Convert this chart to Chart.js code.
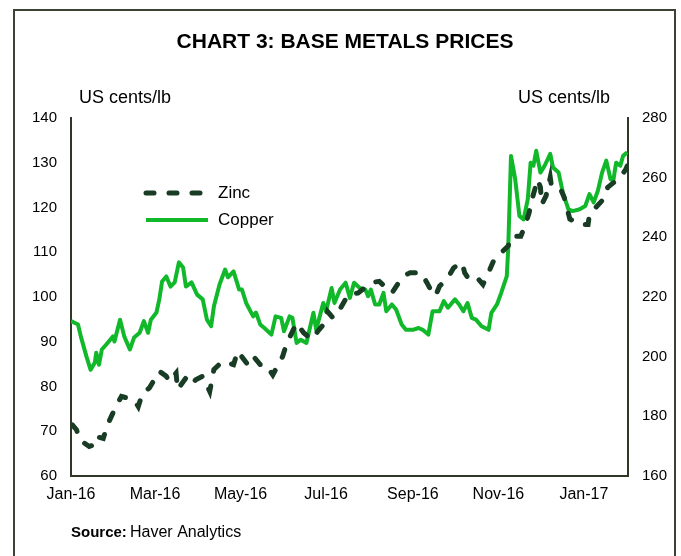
<!DOCTYPE html>
<html>
<head>
<meta charset="utf-8">
<script src="https://cdn.jsdelivr.net/npm/chart.js@4.4.1/dist/chart.umd.min.js"></script>
<style>
  html, body { margin: 0; padding: 0; background: #fff; }
  #wrap { position: relative; width: 681px; height: 556px; }
</style>
</head>
<body>
<div id="wrap"><canvas id="metalsChart"></canvas></div>
<script>
// Chart 3: base metals prices (US cents/lb)
const tickDates = ['2016-01-01', '2016-03-01', '2016-05-01', '2016-07-01', '2016-09-01', '2016-11-01', '2017-01-01'];
const tickLabels = ['Jan-16', 'Mar-16', 'May-16', 'Jul-16', 'Sep-16', 'Nov-16', 'Jan-17'];

// zinc - left axis
const zincDates = [
    '2016-01-02', '2016-01-05', '2016-01-07', '2016-01-14', '2016-01-18', '2016-01-19', '2016-01-24', '2016-01-27',
    '2016-02-02', '2016-02-06', '2016-02-15', '2016-02-18', '2016-02-21', '2016-02-26', '2016-03-04', '2016-03-09',
    '2016-03-11', '2016-03-16', '2016-03-17', '2016-03-23', '2016-03-27', '2016-03-30', '2016-04-04', '2016-04-09',
    '2016-04-12', '2016-04-18', '2016-04-26', '2016-04-29', '2016-05-07', '2016-05-11', '2016-05-15', '2016-05-19',
    '2016-05-24', '2016-05-31', '2016-06-03', '2016-06-10', '2016-06-15', '2016-06-21', '2016-06-25', '2016-06-29',
    '2016-07-02', '2016-07-06', '2016-07-10', '2016-07-17', '2016-07-24', '2016-08-02', '2016-08-08', '2016-08-13',
    '2016-08-17', '2016-08-25', '2016-08-30', '2016-09-07', '2016-09-11', '2016-09-13', '2016-09-17', '2016-09-20',
    '2016-09-26', '2016-09-30', '2016-10-06', '2016-10-08', '2016-10-12', '2016-10-18', '2016-10-21', '2016-10-26',
    '2016-10-29', '2016-11-08', '2016-11-10', '2016-11-17', '2016-11-20', '2016-11-23', '2016-11-24', '2016-11-29',
    '2016-12-01', '2016-12-02', '2016-12-05', '2016-12-08', '2016-12-09', '2016-12-16', '2016-12-18', '2016-12-22',
    '2016-12-27', '2016-12-29', '2017-01-04', '2017-01-05', '2017-01-16', '2017-01-18', '2017-01-24', '2017-01-27',
    '2017-01-31', '2017-02-01'
];
const zincPrices = [
    71.4, 70.3, 68.1, 66.6, 67.0, 68.8, 68.4, 71.4,
    75.5, 77.8, 77.0, 75.5, 78.5, 79.7, 83.4, 82.3,
    81.1, 83.0, 79.3, 81.9, 80.4, 81.5, 82.3, 78.9,
    83.8, 85.6, 84.9, 87.9, 84.5, 86.4, 84.9, 84.9,
    82.6, 86.7, 89.7, 94.2, 92.0, 90.5, 92.3, 93.8,
    96.8, 95.3, 96.8, 100.6, 100.9, 103.2, 103.5, 102.0,
    100.9, 104.7, 105.4, 105.4, 103.2, 102.0, 100.2, 102.4,
    104.3, 106.5, 107.7, 105.4, 103.5, 103.9, 102.8, 106.2,
    108.4, 111.4, 113.6, 113.6, 115.9, 118.9, 120.7, 126.3,
    124.5, 120.7, 122.6, 126.7, 124.5, 123.7, 122.2, 117.4,
    116.6, 116.2, 116.2, 118.5, 122.2, 124.5, 126.0, 126.7,
    128.6, 129.3
];

// copper - right axis
const copperDates = [
    '2016-01-01', '2016-01-06', '2016-01-08', '2016-01-12', '2016-01-15', '2016-01-18', '2016-01-19', '2016-01-21',
    '2016-01-23', '2016-01-26', '2016-01-29', '2016-01-31', '2016-02-01', '2016-02-05', '2016-02-08', '2016-02-12',
    '2016-02-15', '2016-02-19', '2016-02-22', '2016-02-25', '2016-02-27', '2016-03-02', '2016-03-04', '2016-03-06',
    '2016-03-09', '2016-03-12', '2016-03-15', '2016-03-18', '2016-03-21', '2016-03-23', '2016-03-27', '2016-03-31',
    '2016-04-04', '2016-04-07', '2016-04-10', '2016-04-12', '2016-04-16', '2016-04-20', '2016-04-22', '2016-04-26',
    '2016-04-30', '2016-05-02', '2016-05-05', '2016-05-10', '2016-05-12', '2016-05-15', '2016-05-18', '2016-05-23',
    '2016-05-26', '2016-05-30', '2016-06-01', '2016-06-05', '2016-06-07', '2016-06-10', '2016-06-13', '2016-06-17',
    '2016-06-22', '2016-06-24', '2016-06-29', '2016-07-01', '2016-07-05', '2016-07-07', '2016-07-11', '2016-07-15',
    '2016-07-18', '2016-07-21', '2016-07-25', '2016-07-29', '2016-07-31', '2016-08-02', '2016-08-05', '2016-08-08',
    '2016-08-11', '2016-08-13', '2016-08-17', '2016-08-20', '2016-08-24', '2016-08-27', '2016-09-01', '2016-09-05',
    '2016-09-08', '2016-09-12', '2016-09-15', '2016-09-20', '2016-09-23', '2016-09-26', '2016-10-01', '2016-10-04',
    '2016-10-07', '2016-10-10', '2016-10-13', '2016-10-16', '2016-10-20', '2016-10-25', '2016-10-27', '2016-10-31',
    '2016-11-03', '2016-11-07', '2016-11-08', '2016-11-10', '2016-11-13', '2016-11-16', '2016-11-19', '2016-11-22',
    '2016-11-24', '2016-11-26', '2016-11-28', '2016-12-01', '2016-12-04', '2016-12-08', '2016-12-10', '2016-12-14',
    '2016-12-17', '2016-12-21', '2016-12-24', '2016-12-29', '2017-01-02', '2017-01-05', '2017-01-08', '2017-01-11',
    '2017-01-14', '2017-01-17', '2017-01-20', '2017-01-22', '2017-01-24', '2017-01-27', '2017-01-29', '2017-02-01'
];
const copperPrices = [
    211.9, 210.8, 206.8, 200.1, 195.6, 198.0, 201.3, 197.3,
    202.4, 204.0, 205.7, 206.8, 205.1, 212.4, 206.8, 202.4,
    206.4, 208.0, 211.9, 208.0, 212.4, 214.8, 219.2, 225.2,
    226.9, 223.5, 224.9, 231.6, 229.9, 223.5, 224.9, 220.8,
    219.2, 212.4, 210.2, 216.9, 224.2, 229.2, 226.6, 228.6,
    222.5, 222.5, 218.0, 213.5, 214.8, 210.8, 209.6, 207.4,
    213.5, 213.0, 208.5, 213.5, 213.0, 204.6, 205.7, 204.6,
    214.7, 209.0, 218.0, 215.2, 223.0, 218.0, 222.5, 224.8,
    219.7, 224.8, 223.0, 222.5, 220.3, 222.5, 217.5, 217.5,
    221.4, 215.2, 217.5, 215.8, 210.8, 209.0, 209.0, 209.6,
    209.0, 207.4, 215.2, 215.2, 218.6, 216.4, 219.2, 217.5,
    215.2, 218.0, 213.0, 212.4, 210.2, 209.0, 214.7, 217.5,
    221.4, 227.0, 236.0, 267.3, 259.5, 247.2, 246.0, 252.8,
    265.0, 264.0, 269.0, 261.7, 264.0, 268.0, 263.4, 261.7,
    255.0, 249.4, 248.8, 249.4, 250.5, 254.5, 251.7, 255.6,
    261.7, 265.7, 259.5, 259.0, 265.0, 264.0, 267.3, 268.5
];

const dayOf = s => {
    const [y, m, d] = s.split('-').map(Number);
    return (Date.UTC(y, m - 1, d) - Date.UTC(2016, 0, 1)) / 86400000;
};
const tickDays = tickDates.map(dayOf);
const toPoints = (dates, vals) => dates.map((d, i) => ({ x: dayOf(d), y: vals[i] }));

const FONT = '"Liberation Sans", Arial, sans-serif';
const axisColor = '#2f3727';

// frame, title, unit labels, legend and source
const decorations = {
    id: 'decorations',
    afterDraw(chart) {
        const c = chart.ctx;
        c.save();
        c.strokeStyle = '#3d4333';
        c.lineWidth = 2;
        c.strokeRect(14, 10, 661, 600);

        c.fillStyle = '#000';
        c.textBaseline = 'middle';
        c.textAlign = 'center';
        c.font = 'bold 21px ' + FONT;
        c.fillText('CHART 3: BASE METALS PRICES', 345, 42);

        c.textAlign = 'left';
        c.font = '18px ' + FONT;
        c.fillText('US cents/lb', 79, 98);
        c.fillText('US cents/lb', 518, 98);

        chart.data.datasets.forEach((ds, i) => {
            const y = 193 + i * 27;
            c.strokeStyle = ds.borderColor;
            c.lineWidth = ds.borderWidth;
            c.lineCap = ds.borderCapStyle || 'butt';
            c.setLineDash(ds.borderDash || []);
            c.beginPath();
            c.moveTo(146, y);
            c.lineTo(208, y);
            c.stroke();
            c.setLineDash([]);
            c.font = '17px ' + FONT;
            c.fillText(ds.label, 218, y);
        });

        c.font = 'bold 15px ' + FONT;
        c.fillText('Source:', 71, 533);
        c.font = '16px ' + FONT;
        c.fillText('Haver Analytics', 130, 533);
        c.restore();
    }
};

const ctx = document.getElementById('metalsChart').getContext('2d');
new Chart(ctx, {
    type: 'line',
    data: {
        datasets: [{
            label: 'Zinc',
            data: toPoints(zincDates, zincPrices),
            yAxisID: 'y',
            borderColor: '#183c24',
            borderWidth: 5,
            borderDash: [8, 15],
            borderCapStyle: 'round',
            pointRadius: 0,
            tension: 0
        },
        {
            label: 'Copper',
            data: toPoints(copperDates, copperPrices),
            yAxisID: 'y1',
            borderColor: '#10b82a',
            borderWidth: 4,
            borderJoinStyle: 'round',
            pointRadius: 0,
            tension: 0
        }]
    },
    options: {
        responsive: true,
        maintainAspectRatio: false,
        animation: false,
        devicePixelRatio: 1,
        layout: { padding: { top: 118, left: 0, right: 0, bottom: 0 } },
        plugins: {
            legend: { display: false },
            tooltip: { enabled: false }
        },
        scales: {
            x: {
                type: 'linear',
                min: 0,
                max: 397.5,
                afterBuildTicks: axis => { axis.ticks = tickDays.map(v => ({ value: v })); },
                afterFit: axis => { axis.height = 80; },
                grid: { drawOnChartArea: false, drawTicks: false },
                border: { color: axisColor, width: 2 },
                ticks: {
                    autoSkip: false,
                    maxRotation: 0,
                    minRotation: 0,
                    padding: 9,
                    color: '#000',
                    font: { family: FONT, size: 16 },
                    callback: v => tickLabels[tickDays.indexOf(v)]
                }
            },
            y: {
                position: 'left',
                min: 60,
                max: 140,
                afterFit: axis => { axis.width = 71; },
                grid: { drawOnChartArea: false, drawTicks: false },
                border: { color: axisColor, width: 2 },
                ticks: { stepSize: 10, padding: 14, color: '#000', font: { family: FONT, size: 15 } }
            },
            y1: {
                position: 'right',
                min: 160,
                max: 280,
                afterFit: axis => { axis.width = 53; },
                grid: { drawOnChartArea: false, drawTicks: false },
                border: { color: axisColor, width: 2 },
                ticks: { stepSize: 20, padding: 14, color: '#000', font: { family: FONT, size: 15 } }
            }
        }
    },
    plugins: [decorations]
});
</script>
</body>
</html>
